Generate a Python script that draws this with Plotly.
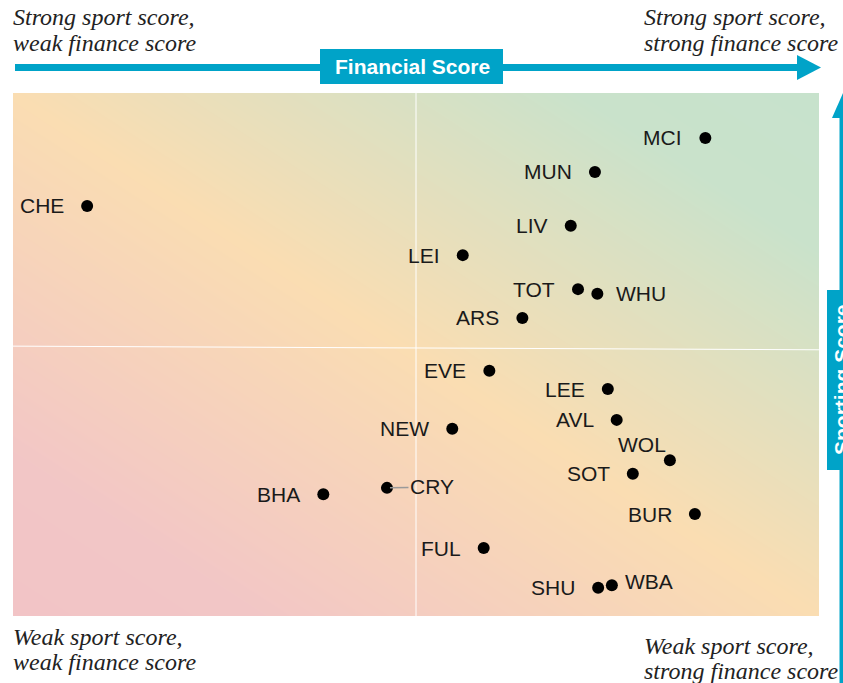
import plotly.graph_objects as go

# club scores (financial = x, sporting = y)
clubs = ["MCI", "MUN", "CHE", "LIV", "LEI", "TOT", "WHU", "ARS", "EVE", "LEE",
         "AVL", "NEW", "WOL", "SOT", "BHA", "CRY", "BUR", "FUL", "SHU", "WBA"]
financial = [85.9, 72.2, 9.2, 69.2, 55.8, 70.1, 72.5, 63.2, 59.1, 73.8,
             74.9, 54.5, 81.5, 76.9, 38.5, 46.4, 84.6, 58.4, 72.6, 74.3]
sporting = [91.4, 84.9, 78.4, 74.6, 69.0, 62.5, 61.6, 57.0, 46.9, 43.4,
            37.5, 35.8, 29.8, 27.2, 23.3, 24.5, 19.5, 13.0, 5.4, 5.9]

BLUE = "#00A3C8"
W, H = 843, 683
L, R, T, B = 13, 819, 93, 616


def px(x):
    return (x - L) / (R - L)


def py(y):
    return (B - y) / (B - T)


fig = go.Figure()

# background gradient: pink (bottom-left) -> peach -> green (top-right)
fig.add_trace(go.Heatmap(
    x=[0, 100], y=[0, 100], z=[[0, 0.5], [0.5, 1]],
    zmin=0, zmax=1, zsmooth="best", showscale=False, hoverinfo="skip",
    colorscale=[[0, "#F2C4C6"], [0.15, "#F2C6C6"], [0.5, "#FADDB2"],
                [0.85, "#C9E2CB"], [1, "#C7E2CC"]],
))

fig.add_trace(go.Scatter(
    x=financial, y=sporting, mode="markers",
    marker=dict(color="black", size=12), hoverinfo="text", text=clubs,
))

annotations = []
for c, fx, sy in zip(clubs, financial, sporting):
    a = dict(x=fx, y=sy, text=c, showarrow=False, xanchor="right", yanchor="middle",
             xshift=-21, yshift=0,
             font=dict(family="Liberation Sans, Arial", size=21, color="#1a1a1a"))
    if c == "WHU":
        a.update(xanchor="left", xshift=17)
    elif c == "WBA":
        a.update(xanchor="left", xshift=11, yshift=4)
    elif c == "WOL":
        a.update(xshift=-2, yshift=16)
    elif c == "CRY":
        a.update(showarrow=True, ax=45, ay=-1, xanchor="center", xshift=0,
                 arrowhead=0, arrowwidth=1.5, arrowcolor="#9a9a9a", standoff=3)
    annotations.append(a)

corner_font = dict(family="Liberation Serif, Times New Roman, serif", size=24, color="#222")
corners = [
    ("<i>Strong sport score,</i>", 12, 17), ("<i>weak finance score</i>", 12, 43),
    ("<i>Strong sport score,</i>", 643, 17), ("<i>strong finance score</i>", 643, 43),
    ("<i>Weak sport score,</i>", 12, 637), ("<i>weak finance score</i>", 12, 662),
    ("<i>Weak sport score,</i>", 643, 646), ("<i>strong finance score</i>", 643, 671),
]
for txt, x, y in corners:
    annotations.append(dict(text=txt, x=px(x), y=py(y), xref="paper", yref="paper",
                            xanchor="left", yanchor="middle", showarrow=False,
                            font=corner_font, borderpad=0))

label_font = dict(family="Liberation Sans, Arial", size=21, color="white")
annotations.append(dict(text="<b>Financial Score</b>", x=px(412), y=py(66.5),
                        xref="paper", yref="paper", showarrow=False, font=label_font,
                        xanchor="center", yanchor="middle"))
annotations.append(dict(text="<b>Sporting Score</b>", x=px(841), y=py(379),
                        xref="paper", yref="paper", showarrow=False, textangle=-90,
                        font=label_font, xanchor="center", yanchor="middle"))

shapes = [
    # quadrant lines
    dict(type="line", x0=50, x1=50, y0=0, y1=100, xref="x", yref="y",
         line=dict(color="white", width=1)),
    dict(type="line", x0=0, x1=100, y0=51.6, y1=50.9, xref="x", yref="y",
         line=dict(color="white", width=1)),
    # financial arrow
    dict(type="line", x0=px(15), x1=px(800), y0=py(67.5), y1=py(67.5),
         xref="paper", yref="paper", line=dict(color=BLUE, width=7)),
    dict(type="path", xref="paper", yref="paper", fillcolor=BLUE, line=dict(width=0),
         path=f"M {px(797)} {py(55)} L {px(821)} {py(67.5)} L {px(797)} {py(80)} Z"),
    dict(type="rect", xref="paper", yref="paper", x0=px(320), x1=px(503),
         y0=py(49), y1=py(84), fillcolor=BLUE, line=dict(width=0)),
    # sporting arrow
    dict(type="line", x0=px(843), x1=px(843), y0=py(700), y1=py(110),
         xref="paper", yref="paper", line=dict(color=BLUE, width=7)),
    dict(type="path", xref="paper", yref="paper", fillcolor=BLUE, line=dict(width=0),
         path=f"M {px(832)} {py(118)} L {px(843)} {py(93)} L {px(854)} {py(118)} Z"),
    dict(type="rect", xref="paper", yref="paper", x0=px(827), x1=px(862),
         y0=py(290), y1=py(470), fillcolor=BLUE, line=dict(width=0)),
]

fig.update_layout(
    width=W, height=H,
    margin=dict(l=L, r=W - R, t=T, b=H - B),
    paper_bgcolor="white", plot_bgcolor="white",
    showlegend=False,
    xaxis=dict(range=[0, 100], visible=False, fixedrange=True),
    yaxis=dict(range=[0, 100], visible=False, fixedrange=True),
    annotations=annotations, shapes=shapes,
)

# drop the default page margin so the figure sits at the window's top-left corner
fig.write_html("out.html", config={"displayModeBar": False},
               post_script="document.body.style.margin='0';")
